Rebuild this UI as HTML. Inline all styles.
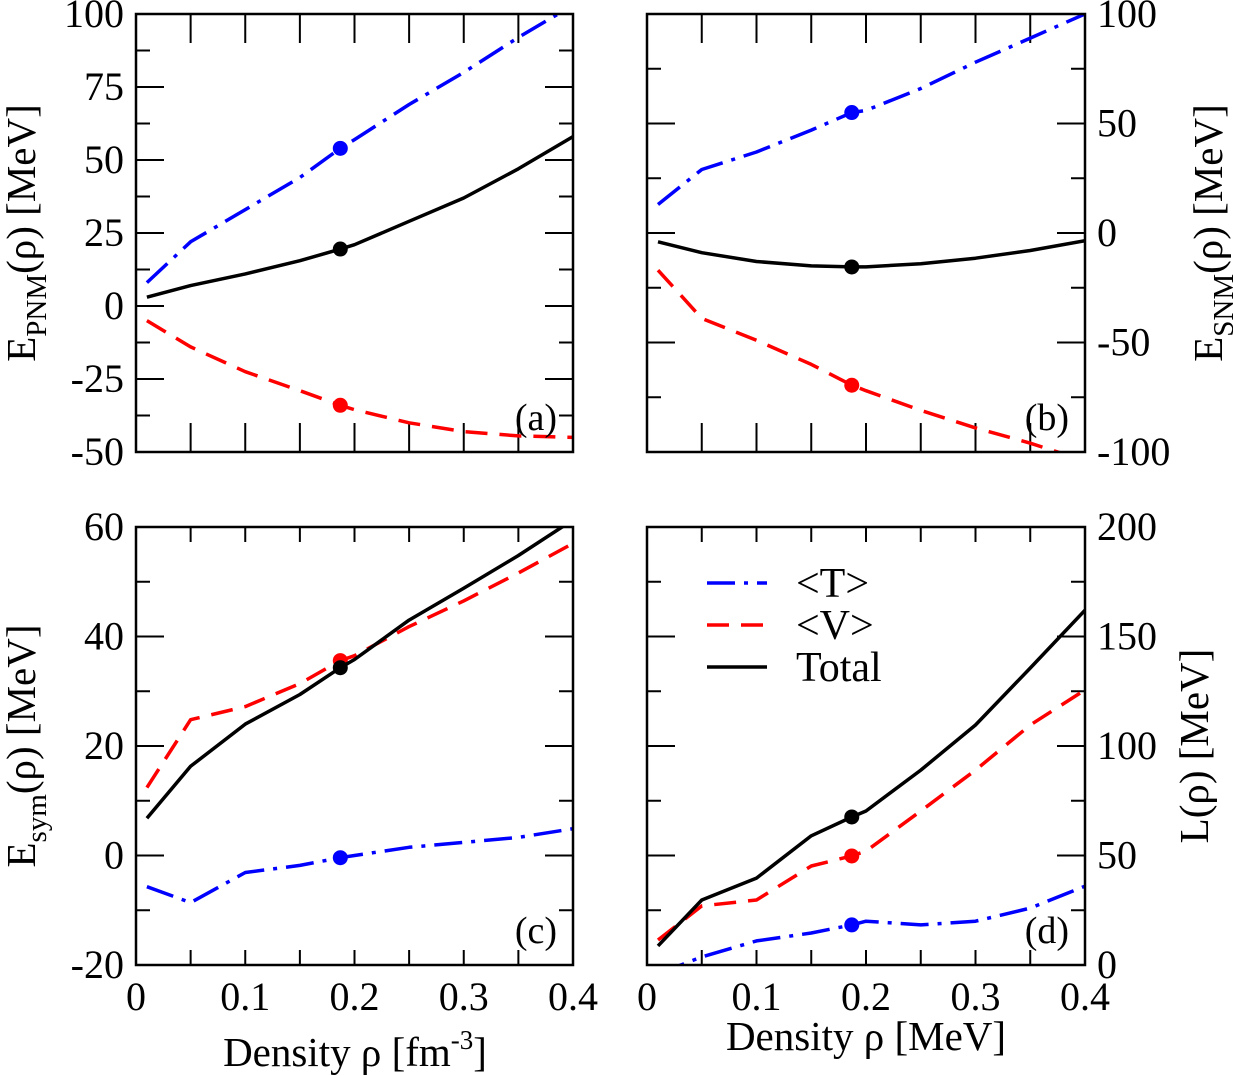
<!DOCTYPE html>
<html><head><meta charset="utf-8"><style>
html,body{margin:0;padding:0;background:#fff;}
svg{display:block;}
text{font-family:"Liberation Serif",serif;fill:#000;}
</style></head><body>
<svg id="fig" width="1233" height="1076" viewBox="0 0 1233 1076" xmlns="http://www.w3.org/2000/svg">
<g id="content"></g>
</svg>
<script>
const xs = [0.01,0.05,0.1,0.15,0.187,0.2,0.25,0.3,0.35,0.4];
const xTickLabels = ["0","0.1","0.2","0.3","0.4"];
// panel a
const aT = [8,22,33,44,54,57,69,80,92,103];
const aV = [-5,-14,-22.5,-29,-34,-35.5,-40,-43,-44.5,-45];
const aTot = [3,7,11,15.5,19.5,21,29,37,47,58];
const aTicks = ["-50","-25","0","25","50","75","100"];
// panel b
const bT = [13,29,37,47,55,56,66,78,89,100];
const bV = [-17,-39,-49,-60,-69.5,-72,-81,-89,-96,-104];
const bTot = [-4,-9,-13,-15,-15.5,-15.5,-14,-11.5,-8,-3.5];
const bTicks = ["-100","-50","0","50","100"];
// panel c
const cT = [-5.7,-8.6,-3.1,-1.8,-0.4,0,1.5,2.4,3.3,4.9];
const cV = [12.4,24.8,27.2,31.4,35.6,36.5,41.8,46.5,51.6,57];
const cTot = [6.8,16.3,24,29.4,34.3,35.8,43,48.8,54.8,61.3];
const cTicks = ["-20","0","20","40","60"];
// panel d
const dT = [-4,3.7,11,14.6,18.3,20,18.3,20,26,36];
const dV = [11.4,27,29.7,45.2,49.8,52,70.3,89,109.6,125.6];
const dTot = [8.7,29.7,39.7,59,67.6,70.3,89,109.6,135.6,162];
const dTicks = ["0","50","100","150","200"];
const satIdx = 4;

const NS="http://www.w3.org/2000/svg";
const root=document.getElementById('content');
function el(tag,attrs,parent){const e=document.createElementNS(NS,tag);for(const k in attrs)e.setAttribute(k,attrs[k]);(parent||root).appendChild(e);return e;}

const styles={T:{c:'#0000ff',d:'28 9 4 9'},V:{c:'#ff0000',d:'22 12'},Tot:{c:'#000',d:''}};

function panel(id,L,T,W,H,ymin,ymax,minorStep,majorStep,labelSide,ticks,series,tag,xTickLen,showXLabels){
  const g=el('g',{});
  
  
  const X=v=>L+(v-0)/0.4*W;
  const Y=v=>T+H-(v-ymin)/(ymax-ymin)*H;
  const cp=el('clipPath',{id:'clip'+id},g);
  el('rect',{x:L,y:T,width:W,height:H},cp);
  for(let i=0;i<=8;i++){const x=X(i*0.05);
    const t1=el('line',{x1:x,y1:T,x2:x,y2:T+xTickLen,stroke:'#000','stroke-width':2},g);
    
    
    el('line',{x1:x,y1:T+H,x2:x,y2:T+H-xTickLen,stroke:'#000','stroke-width':2},g);}
  const n=Math.round((ymax-ymin)/minorStep);
  for(let i=0;i<=n;i++){const v=ymin+i*minorStep;const y=Y(v);
    const maj=Math.abs((v-ymin)/majorStep-Math.round((v-ymin)/majorStep))<1e-6;
    const len=maj?28:14;
    const t=el('line',{x1:L,y1:y,x2:L+len,y2:y,stroke:'#000','stroke-width':2},g);
    
    
    el('line',{x1:L+W,y1:y,x2:L+W-len,y2:y,stroke:'#000','stroke-width':2},g);}
  ticks.forEach(s=>{const v=parseFloat(s);const y=Y(v);
    const t=el('text',{x:labelSide==='left'?L-12:L+W+12,y:y+13,'font-size':40,'text-anchor':labelSide==='left'?'end':'start'},g);
    t.textContent=s;
    
    });
  if(showXLabels){xTickLabels.forEach(s=>{const t=el('text',{x:X(parseFloat(s)),y:T+H+45,'font-size':40,'text-anchor':'middle'},g);t.textContent=s;
    
    });}
  const sg=el('g',{'clip-path':'url(#clip'+id+')'},g);
  series.forEach(([key,arr])=>{const st=styles[key];
    const pts=xs.map((x,i)=>X(x).toFixed(1)+','+Y(arr[i]).toFixed(1)).join(' ');
    const p=el('polyline',{points:pts,fill:'none',stroke:st.c,'stroke-width':3.5,'stroke-dasharray':st.d,'stroke-linejoin':'round'},sg);
    
    
    const c=el('circle',{cx:X(xs[satIdx]),cy:Y(arr[satIdx]),r:7.5,fill:st.c},sg);
    
    });
  const fr=el('rect',{x:L,y:T,width:W,height:H,fill:'none',stroke:'#000','stroke-width':2.5},g);
  
  
  const pl=el('text',{x:L+W-16,y:T+H-22,'font-size':38,'text-anchor':'end'},g);
  pl.textContent=tag;
  
  
}

panel('a',136,14,437,438,-50,100,12.5,25,'left',aTicks,[['V',aV],['T',aT],['Tot',aTot]],'(a)',29,false);
panel('b',647,14,438,438,-100,100,25,50,'right',bTicks,[['V',bV],['T',bT],['Tot',bTot]],'(b)',29,false);
panel('c',136,527,437,438,-20,60,10,20,'left',cTicks,[['V',cV],['Tot',cTot],['T',cT]],'(c)',15,true);
panel('d',647,527,438,438,0,200,25,50,'right',dTicks,[['V',dV],['T',dT],['Tot',dTot]],'(d)',15,true);

const leg=el('g',{});


[['T','<T>',583],['V','<V>',625],['Tot','Total',667]].forEach(([k,lab,y])=>{
  const st=styles[k];
  const l=el('line',{x1:707,y1:y,x2:767,y2:y,stroke:st.c,'stroke-width':3.5,'stroke-dasharray':st.d},leg);
  
  
  const t=el('text',{x:796,y:y+14,'font-size':42},leg);
  t.textContent=lab;
  
  
});
</script>
<script>
const f=document.getElementById('content');
function addText(html,attrs,name){const g=document.createElementNS("http://www.w3.org/2000/svg",'text');for(const k in attrs)g.setAttribute(k,attrs[k]);g.innerHTML=html;


f.appendChild(g);}
addText('E<tspan font-size="29" dy="11">PNM</tspan><tspan dy="-11">(ρ) [MeV]</tspan>',{x:0,y:0,'font-size':41,'text-anchor':'middle',transform:'translate(35,233) rotate(-90)'},'y-axis-title-a');
addText('E<tspan font-size="29" dy="11">SNM</tspan><tspan dy="-11">(ρ) [MeV]</tspan>',{x:0,y:0,'font-size':41,'text-anchor':'middle',transform:'translate(1222,233) rotate(-90)'},'y-axis-title-b');
addText('E<tspan font-size="29" dy="11">sym</tspan><tspan dy="-11">(ρ) [MeV]</tspan>',{x:0,y:0,'font-size':41,'text-anchor':'middle',transform:'translate(35,746) rotate(-90)'},'y-axis-title-c');
addText('L(ρ) [MeV]',{x:0,y:0,'font-size':41,'text-anchor':'middle',transform:'translate(1208,746) rotate(-90)'},'y-axis-title-d');
addText('Density ρ [fm<tspan font-size="27" dy="-17">-3</tspan><tspan dy="17">]</tspan>',{x:355,y:1066,'font-size':41,'text-anchor':'middle'},'x-axis-title-c');
addText('Density ρ [MeV]',{x:866,y:1050,'font-size':41,'text-anchor':'middle'},'x-axis-title-d');
</script>
</body></html>
